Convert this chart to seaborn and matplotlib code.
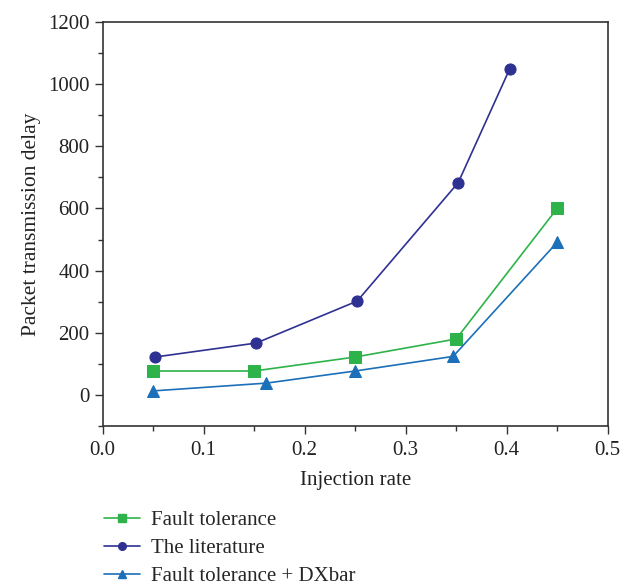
import matplotlib
matplotlib.use("Agg")
import matplotlib.pyplot as plt
from matplotlib.lines import Line2D
import seaborn as sns
import pandas as pd
from matplotlib.ticker import MultipleLocator

sns.set_theme(style="white")
plt.rcParams['font.family'] = ['Liberation Serif', 'DejaVu Serif']

# Data
ft_x = [0.05, 0.15, 0.25, 0.35, 0.45]
ft_y = [77, 77, 122, 180, 600]
lit_x = [0.052, 0.152, 0.252, 0.352, 0.403]
lit_y = [122, 167, 302, 683, 1049]
dx_x = [0.05, 0.162, 0.25, 0.347, 0.45]
dx_y = [13, 38, 77, 124, 491]

series_names = ["Fault tolerance", "The literature", "Fault tolerance + DXbar"]
colors = ["#2db34a", "#2e3192", "#1c6fb9"]
markers = ["s", "o", "^"]

df = pd.concat([
    pd.DataFrame({"x": ft_x, "y": ft_y, "s": series_names[0]}),
    pd.DataFrame({"x": lit_x, "y": lit_y, "s": series_names[1]}),
    pd.DataFrame({"x": dx_x, "y": dx_y, "s": series_names[2]}),
])

fig = plt.figure(figsize=(6.41, 5.86), dpi=100)
ax = fig.add_axes([0.1602, 0.2730, 0.7878, 0.6895])

for name, c, m in zip(series_names, colors, markers):
    d = df[df["s"] == name]
    sns.lineplot(data=d, x="x", y="y", ax=ax, color=c, marker=m,
                 markersize=(9 if m == "^" else 8),
                 markeredgecolor=c, linewidth=1.2, sort=False, legend=False)

ax.set_xlim(0, 0.5)
ax.set_ylim(-100, 1200)
ax.xaxis.set_major_locator(MultipleLocator(0.1))
ax.xaxis.set_minor_locator(MultipleLocator(0.05))
ax.yaxis.set_major_locator(MultipleLocator(200))
ax.yaxis.set_minor_locator(MultipleLocator(100))
ax.xaxis.set_major_formatter(plt.FuncFormatter(lambda v, p: f"{v:.1f}"))
ax.tick_params(axis="both", which="major", direction="out", length=6, width=1,
               color="#333333", labelsize=15, labelcolor="#222222",
               bottom=True, left=True, top=False, right=False)
ax.tick_params(axis="x", which="major", pad=5)
ax.tick_params(axis="both", which="minor", direction="out", length=3.5, width=1,
               color="#333333", bottom=True, left=True, top=False, right=False)
for sp in ax.spines.values():
    sp.set_color("#333333")
    sp.set_linewidth(1.2)

ax.set_xlabel("Injection rate", fontsize=15, color="#222222", labelpad=8)
ax.set_ylabel("Packet transmission delay", fontsize=15.5, color="#222222", labelpad=5)

handles = [Line2D([], [], color=c, marker=m, markersize=5.5, markeredgecolor=c,
                  linewidth=1.2) for c, m in zip(colors, markers)]
ax.legend(handles, series_names, loc="upper left", bbox_to_anchor=(0.002, -0.21),
          frameon=False, fontsize=15, handlelength=1.75, handletextpad=0.5,
          labelspacing=0.4, borderaxespad=0, borderpad=0)

fig.savefig("out.png", dpi=100)
